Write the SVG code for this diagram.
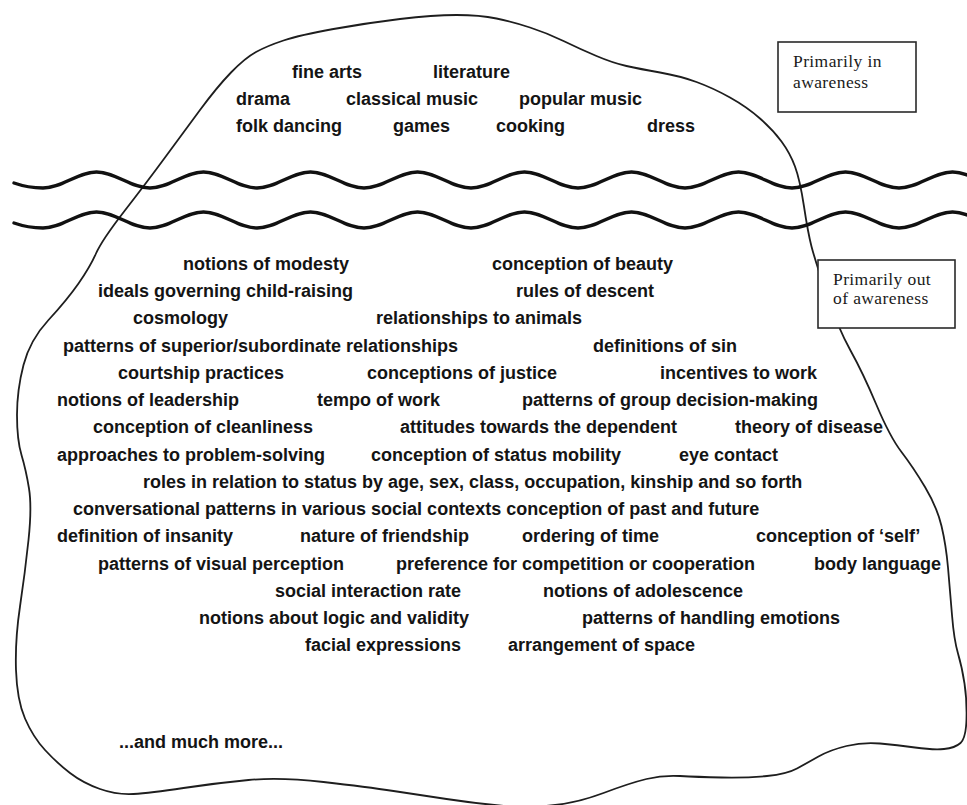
<svg xmlns="http://www.w3.org/2000/svg" width="967" height="805" viewBox="0 0 967 805">
<style>
.t{font-family:"Liberation Sans",Arial,sans-serif;font-weight:bold;font-size:18px;fill:#141414}
.s{font-family:"Liberation Serif","Times New Roman",serif;font-size:17.5px;letter-spacing:0.4px;fill:#1a1a1a}
.blob{fill:none;stroke:#1e1e1e;stroke-width:1.8;stroke-linejoin:round}
.wave{fill:none;stroke:#111;stroke-width:3.4;stroke-linecap:round}
.box{fill:#fff;stroke:#2a2a2a;stroke-width:1.6}
</style>
<defs>
<path id="w" d="M14,183 C24,186.5 33,188 43,188 C62.5,188 77,172 96.5,172 S130.5,188 150,188 S184,172 203.5,172 S237.5,188 257,188 S291,172 310.5,172 S344.5,188 364,188 S398,172 417.5,172 S451.5,188 471,188 S505,172 524.5,172 S558.5,188 578,188 S612,172 631.5,172 S665.5,188 685,188 S719,172 738.5,172 S772.5,188 792,188 S826,172 845.5,172 S879.5,188 899,188 S933,172 952.5,172 S986.5,188 1006,188"/>
</defs>
<rect width="967" height="805" fill="#fff"/>
<g id="iceberg">
<path class="blob" d="M231,72.5 Q245,58 256,52 Q267,46 283.5,40.5 Q300,35 333.5,29 Q367,23 400,19 Q433,15 456.5,15 Q480,15 496.5,18.5 Q513,22 530,27.5 Q547,33 563.5,41 Q580,49 596.5,56 Q613,63 626.5,66 Q640,69 660,72.5 Q680,76 696.5,82 Q713,88 730,97.5 Q747,107 760,118.5 Q773,130 781.5,141.5 Q790,153 795,166.5 Q800,180 804,206.5 Q808,233 811.5,246.5 Q815,260 826.5,294 Q838,328 850.5,350.5 Q863,373 876.5,405 Q890,437 901.5,452 Q913,467 925,487 Q937,507 941.5,526 Q946,545 948,567.5 Q950,590 952,615 Q954,640 958,653.5 Q962,667 964.5,683.5 Q967,700 966.5,719 Q966,738 960.5,743 Q955,748 944,749 Q933,750 915,747.5 Q897,745 880,743.5 Q863,742 846.5,746 Q830,750 818.5,756.5 Q807,763 797,768.5 Q787,774 767,776 Q747,778 722,777.5 Q697,777 680,776 Q663,775 646.5,779 Q630,783 603.5,793 Q577,803 551,805.5 Q525,808 499,805.5 Q473,803 446.5,799 Q420,795 393.5,791 Q367,787 323.5,782 Q280,777 248.5,780 Q217,783 183.5,788 Q150,793 133.5,794 Q117,795 100,789 Q83,783 70,773 Q57,763 45,750 Q33,737 25,718.5 Q17,700 16,670 Q15,640 20,606.5 Q25,573 28.5,540 Q32,507 29,488.5 Q26,470 21.5,455 Q17,440 17,415 Q17,390 23.5,365 Q30,340 48.5,320 Q67,300 78.5,283.5 Q90,267 96,253.5 Q102,240 124.5,211 Q147,182 165,157.5 Q183,133 200,110 Q217,87 231,72.5 Z"/>
</g>
<g id="waterline">
<use href="#w" class="wave"/>
<use href="#w" class="wave" transform="translate(0,40)"/>
</g>
<g id="label-in">
<rect class="box" x="778" y="42" width="138" height="70"/>
<text class="s" x="793" y="67">Primarily in</text>
<text class="s" x="793" y="88">awareness</text>
</g>
<g id="label-out">
<rect class="box" x="818" y="260" width="137" height="68"/>
<text class="s" x="833" y="285">Primarily out</text>
<text class="s" x="833" y="304">of awareness</text>
</g>
<g id="above">
<text class="t" x="292" y="78">fine arts</text>
<text class="t" x="433" y="78">literature</text>
<text class="t" x="236" y="105">drama</text>
<text class="t" x="346" y="105">classical music</text>
<text class="t" x="519" y="105">popular music</text>
<text class="t" x="236" y="132">folk dancing</text>
<text class="t" x="393" y="132">games</text>
<text class="t" x="496" y="132">cooking</text>
<text class="t" x="647" y="132">dress</text>
</g>
<g id="below">
<text class="t" x="183" y="270">notions of modesty</text>
<text class="t" x="492" y="270">conception of beauty</text>
<text class="t" x="98" y="297">ideals governing child-raising</text>
<text class="t" x="516" y="297">rules of descent</text>
<text class="t" x="133" y="324">cosmology</text>
<text class="t" x="376" y="324">relationships to animals</text>
<text class="t" x="63" y="352">patterns of superior/subordinate relationships</text>
<text class="t" x="593" y="352">definitions of sin</text>
<text class="t" x="118" y="379">courtship practices</text>
<text class="t" x="367" y="379">conceptions of justice</text>
<text class="t" x="660" y="379">incentives to work</text>
<text class="t" x="57" y="406">notions of leadership</text>
<text class="t" x="317" y="406">tempo of work</text>
<text class="t" x="522" y="406">patterns of group decision-making</text>
<text class="t" x="93" y="433">conception of cleanliness</text>
<text class="t" x="400" y="433">attitudes towards the dependent</text>
<text class="t" x="735" y="433">theory of disease</text>
<text class="t" x="57" y="461">approaches to problem-solving</text>
<text class="t" x="371" y="461">conception of status mobility</text>
<text class="t" x="679" y="461">eye contact</text>
<text class="t" x="143" y="488">roles in relation to status by age, sex, class, occupation, kinship and so forth</text>
<text class="t" x="73" y="515">conversational patterns in various social contexts conception of past and future</text>
<text class="t" x="57" y="542">definition of insanity</text>
<text class="t" x="300" y="542">nature of friendship</text>
<text class="t" x="522" y="542">ordering of time</text>
<text class="t" x="756" y="542">conception of ‘self’</text>
<text class="t" x="98" y="570">patterns of visual perception</text>
<text class="t" x="396" y="570">preference for competition or cooperation</text>
<text class="t" x="814" y="570">body language</text>
<text class="t" x="275" y="597">social interaction rate</text>
<text class="t" x="543" y="597">notions of adolescence</text>
<text class="t" x="199" y="624">notions about logic and validity</text>
<text class="t" x="582" y="624">patterns of handling emotions</text>
<text class="t" x="305" y="651">facial expressions</text>
<text class="t" x="508" y="651">arrangement of space</text>
<text class="t" x="119" y="748">...and much more...</text>
</g>
</svg>
